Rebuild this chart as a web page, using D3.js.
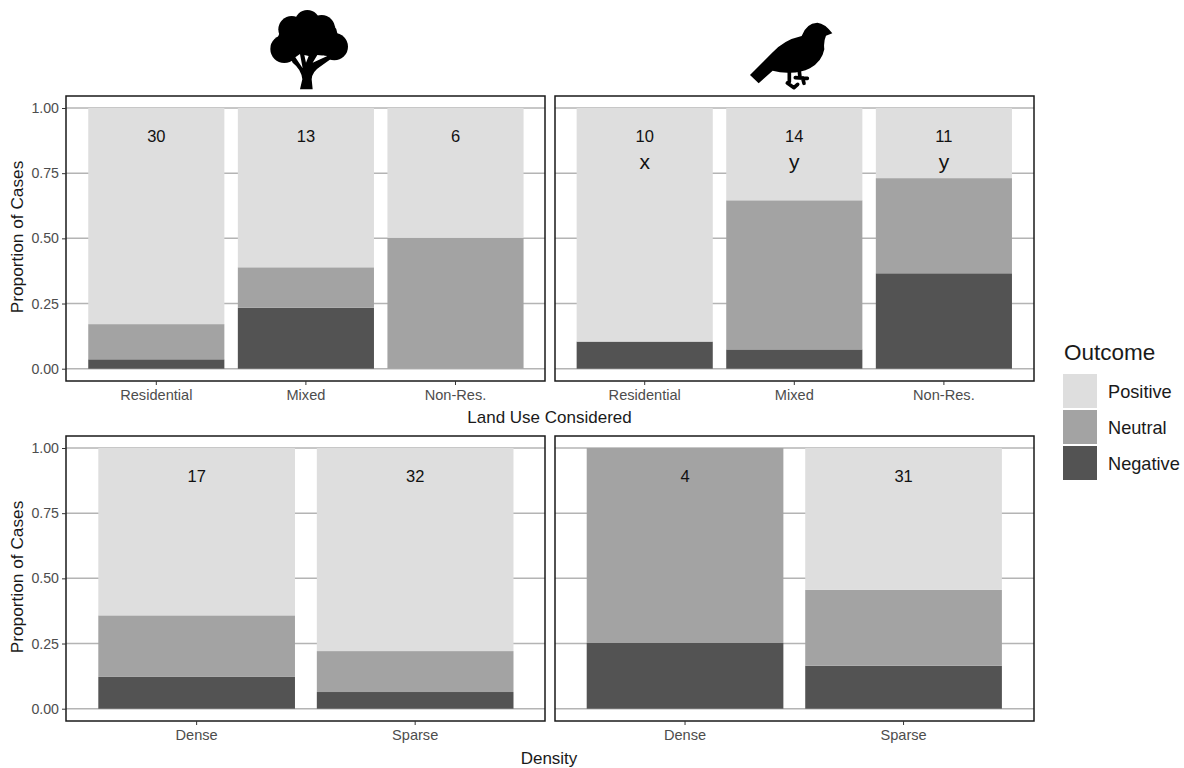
<!DOCTYPE html>
<html>
<head>
<meta charset="utf-8">
<script src="https://cdn.jsdelivr.net/npm/d3@7"></script>
<style>
html, body { margin: 0; padding: 0; background: #fff; }
svg { display: block; font-family: "Liberation Sans", Arial, sans-serif; }
</style>
</head>
<body>
<div id="chart"></div>
<script>
////////// Data
var outcomes = ["Negative", "Neutral", "Positive"];
var legendOrder = ["Positive", "Neutral", "Negative"];
var yTicks = [0, 0.25, 0.5, 0.75, 1];

var landUse = ["Residential", "Mixed", "Non-Res."];
var density = ["Dense", "Sparse"];

// proportions per category
var treeLandNegative = [0.036, 0.234, 0];
var treeLandNeutral = [0.135, 0.155, 0.502];
var treeLandPositive = [0.829, 0.611, 0.498];
var treeLandCounts = ["30", "13", "6"];

var birdLandNegative = [0.104, 0.074, 0.366];
var birdLandNeutral = [0, 0.572, 0.365];
var birdLandPositive = [0.896, 0.354, 0.269];
var birdLandCounts = ["10", "14", "11"];
var birdLandLetters = ["x", "y", "y"];

var treeDensityNegative = [0.122, 0.064];
var treeDensityNeutral = [0.236, 0.157];
var treeDensityPositive = [0.642, 0.779];
var treeDensityCounts = ["17", "32"];

var birdDensityNegative = [0.252, 0.165];
var birdDensityNeutral = [0.748, 0.291];
var birdDensityPositive = [0, 0.544];
var birdDensityCounts = ["4", "31"];

var color = d3.scaleOrdinal()
  .domain(outcomes)
  .range(["#535353", "#a3a3a3", "#dedede"]);

var svg = d3.select("#chart").append("svg")
  .attr("width", 1184)
  .attr("height", 768);

var panelW = 479, panelH = 285;

function drawPanel(px, py, cats, neg, neu, pos, counts, letters, showY) {
  var g = svg.append("g").attr("transform", "translate(" + px + "," + py + ")");

  var pad = cats.length == 3 ? 0.09 : 0.1;
  var x = d3.scaleBand().domain(cats).range([showY ? 0.4 : -0.2, panelW + (showY ? 0.4 : -0.2)])
    .paddingInner(pad).paddingOuter(0.146);
  var y = d3.scaleLinear().domain([0, 1]).range([272.7, 12]);

  // grid
  g.selectAll(".grid").data(yTicks).enter().append("line")
    .attr("x1", 0).attr("x2", panelW)
    .attr("y1", function(d) { return y(d); })
    .attr("y2", function(d) { return y(d); })
    .attr("stroke", "#b4b4b4")
    .attr("stroke-width", 1.5);

  // stacked bars
  var rows = cats.map(function(c, i) {
    return { cat: c, Negative: neg[i], Neutral: neu[i], Positive: pos[i] };
  });
  var layers = d3.stack().keys(outcomes)(rows);
  layers.forEach(function(layer) {
    g.selectAll(".b" + layer.key).data(layer).enter().append("rect")
      .attr("x", function(d) { return x(d.data.cat); })
      .attr("width", x.bandwidth())
      .attr("y", function(d) { return y(d[1]); })
      .attr("height", function(d) { return y(d[0]) - y(d[1]); })
      .attr("fill", color(layer.key));
  });

  // counts on top of bars
  g.selectAll(".count").data(cats).enter().append("text")
    .attr("x", function(d) { return x(d) + x.bandwidth() / 2; })
    .attr("y", y(0.893))
    .attr("dy", "0.35em")
    .attr("text-anchor", "middle")
    .attr("font-size", 16.5)
    .attr("fill", "#111")
    .text(function(d, i) { return counts[i]; });

  if (letters) {
    g.selectAll(".letter").data(cats).enter().append("text")
      .attr("x", function(d) { return x(d) + x.bandwidth() / 2; })
      .attr("y", y(0.795))
      .attr("dy", "0.35em")
      .attr("text-anchor", "middle")
      .attr("font-size", 21)
      .attr("fill", "#111")
      .text(function(d, i) { return letters[i]; });
  }

  // frame
  g.append("rect")
    .attr("width", panelW).attr("height", panelH)
    .attr("fill", "none")
    .attr("stroke", "#1a1a1a")
    .attr("stroke-width", 1.5);

  // axes
  var xAxis = g.append("g")
    .attr("transform", "translate(0," + panelH + ")")
    .call(d3.axisBottom(x).tickSize(4).tickPadding(5));
  xAxis.select(".domain").remove();
  xAxis.selectAll("line").attr("stroke", "#333");
  xAxis.selectAll("text").attr("font-size", 14.6).attr("fill", "#4d4d4d")
    .attr("font-family", "'Liberation Sans', Arial, sans-serif");

  if (showY) {
    var yAxis = g.append("g")
      .call(d3.axisLeft(y).tickValues(yTicks).tickFormat(d3.format(".2f")).tickSize(4).tickPadding(3));
    yAxis.select(".domain").remove();
    yAxis.selectAll("line").attr("stroke", "#333");
    yAxis.selectAll("text").attr("font-size", 14.2).attr("fill", "#4d4d4d")
      .attr("font-family", "'Liberation Sans', Arial, sans-serif");

    svg.append("text")
      .attr("transform", "translate(23," + (py + 141) + ") rotate(-90)")
      .attr("text-anchor", "middle")
      .attr("font-size", 17.3)
      .attr("fill", "#1a1a1a")
      .text("Proportion of Cases");
  }
}

drawPanel(66, 96, landUse, treeLandNegative, treeLandNeutral, treeLandPositive, treeLandCounts, null, true);
drawPanel(555, 96, landUse, birdLandNegative, birdLandNeutral, birdLandPositive, birdLandCounts, birdLandLetters, false);
drawPanel(66, 436, density, treeDensityNegative, treeDensityNeutral, treeDensityPositive, treeDensityCounts, null, true);
drawPanel(555, 436, density, birdDensityNegative, birdDensityNeutral, birdDensityPositive, birdDensityCounts, null, false);

// axis titles
svg.append("text").attr("x", 549.5).attr("y", 423)
  .attr("text-anchor", "middle").attr("font-size", 17).attr("fill", "#1a1a1a")
  .text("Land Use Considered");
svg.append("text").attr("x", 549).attr("y", 764)
  .attr("text-anchor", "middle").attr("font-size", 17).attr("fill", "#1a1a1a")
  .text("Density");

// legend
svg.append("text").attr("x", 1064).attr("y", 360)
  .attr("font-size", 22.5).attr("fill", "#1a1a1a")
  .text("Outcome");
var legend = svg.selectAll(".legend").data(legendOrder).enter().append("g")
  .attr("transform", function(d, i) { return "translate(1063," + (374 + i * 36) + ")"; });
legend.append("rect")
  .attr("width", 34).attr("height", 34)
  .attr("fill", function(d) { return color(d); });
legend.append("text")
  .attr("x", 45).attr("y", 18)
  .attr("dy", "0.35em")
  .attr("font-size", 18.2)
  .attr("fill", "#1a1a1a")
  .text(function(d) { return d; });

// icons, drawn in the 3x crop coordinates
var tree = svg.append("g").attr("transform", "translate(240,0) scale(0.3333)").attr("fill", "#000");
var crown = [[133, 147, 42], [283, 140, 41], [155, 88, 40], [202, 68, 38], [245, 85, 40], [200, 115, 70], [240, 120, 48], [160, 125, 48], [262, 100, 30]];
tree.selectAll("circle").data(crown).enter().append("circle")
  .attr("cx", function(d) { return d[0]; })
  .attr("cy", function(d) { return d[1]; })
  .attr("r", function(d) { return d[2]; });
tree.append("path").attr("d",
  "M180 268 L218 268 L215 238 Q216 215 240 200 L282 170 L150 170 L158 188 Q184 208 187 238 Z");
// slits between the branches
tree.append("path").attr("fill", "#fff").attr("d",
  "M166 172 L188 205 L180 162 Z M198 188 L206 168 L193 165 Z M218 188 L262 168 L232 165 Z");

var bird = svg.append("g").attr("transform", "translate(730,0) scale(0.3333)").attr("fill", "#000");
bird.append("path").attr("d",
  "M307 100 L288 107 Q280 125 283 148 Q276 185 240 205 Q210 220 172 218 Q150 218 128 212 L86 250 L60 225 L125 160 Q160 120 215 108 Q228 70 262 68 Q285 70 307 100 Z");
// legs and toes
bird.append("path")
  .attr("fill", "none").attr("stroke", "#000").attr("stroke-width", 11)
  .attr("stroke-linecap", "round").attr("stroke-linejoin", "round")
  .attr("d", "M178 214 L178 245 M172 249 L192 263 L203 253 M208 214 L210 232 M196 233 L232 235 M218 234 L222 250");
</script>
</body>
</html>
